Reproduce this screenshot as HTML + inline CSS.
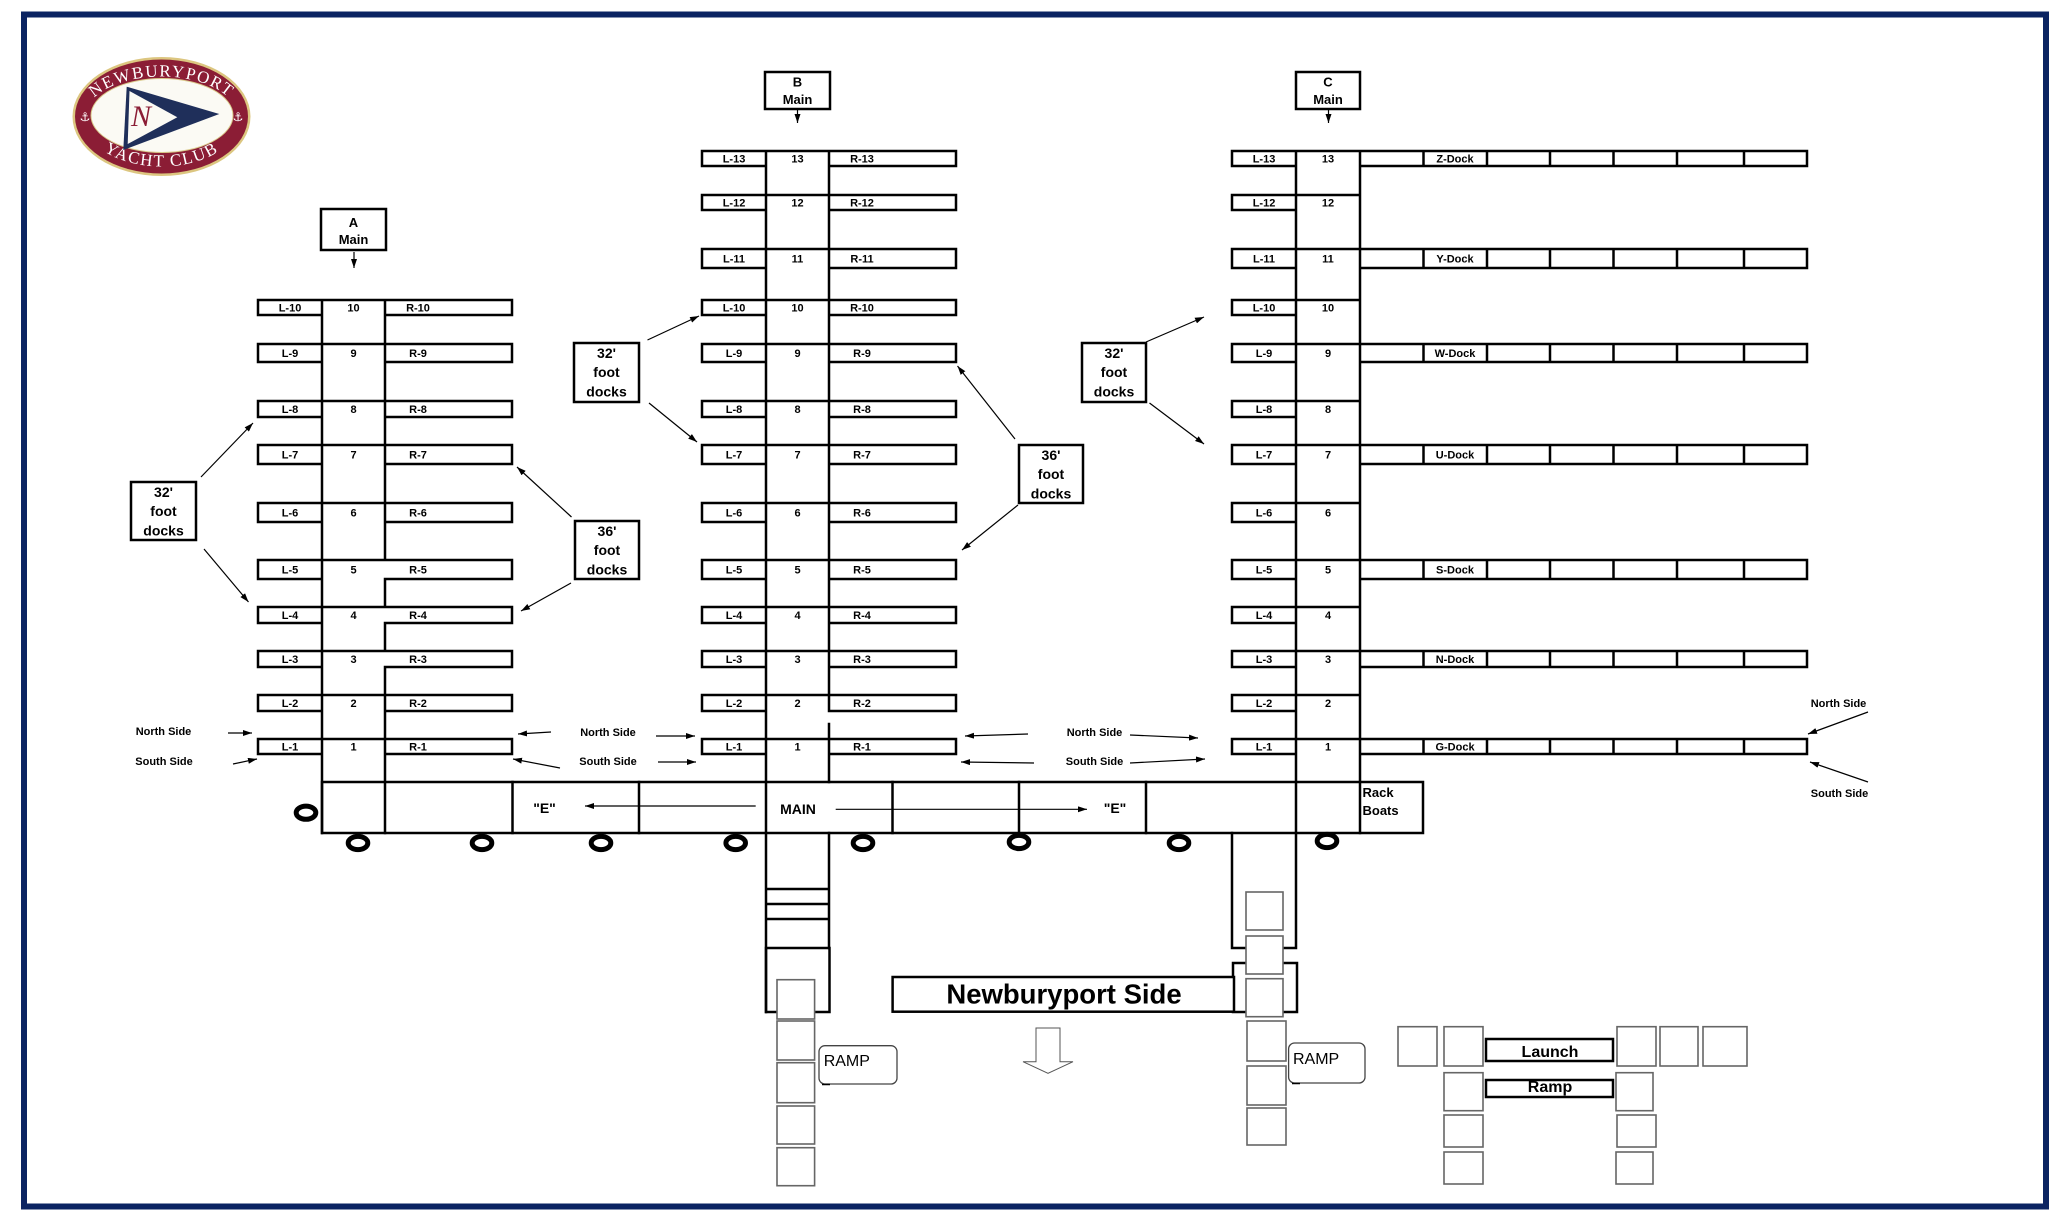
<!DOCTYPE html>
<html><head><meta charset="utf-8"><style>
html,body{margin:0;padding:0;background:#fff;}
svg{display:block;}
.k{fill:none;stroke:#000;stroke-width:2.5;stroke-linecap:square}
.kw{fill:#fff;stroke:#000;stroke-width:2.5}
.a{stroke:#000;stroke-width:1.2;fill:none;marker-end:url(#ah)}
.t{font-family:"Liberation Sans",Arial,sans-serif;font-weight:bold;font-size:11px;text-anchor:middle;fill:#000}
.m{font-family:"Liberation Sans",Arial,sans-serif;font-weight:bold;font-size:13px;text-anchor:middle;fill:#000}
.b{font-family:"Liberation Sans",Arial,sans-serif;font-weight:bold;font-size:14px;text-anchor:middle;fill:#000}
.sq{fill:#fff;stroke:#666;stroke-width:1.6}
.ring{fill:#fff;stroke:#000;stroke-width:5}
</style></head><body>
<svg xmlns="http://www.w3.org/2000/svg" width="2060" height="1221" viewBox="0 0 2060 1221">
<defs>
<marker id="ah" viewBox="0 0 10 10" refX="10" refY="5" markerWidth="9" markerHeight="6" markerUnits="userSpaceOnUse" orient="auto" preserveAspectRatio="none"><path d="M0,0 L10,5 L0,10 z" fill="#000"/></marker>
<path id="topArc" d="M85.5 116.5 A76 40 0 0 1 237.5 116.5" fill="none"/>
<path id="botArc" d="M81.5 116.5 A80 50 0 0 0 241.5 116.5" fill="none"/>
</defs>
<rect x="0" y="0" width="2060" height="1221" fill="#fff"/>
<!-- frame -->
<rect x="24" y="14.5" width="2022" height="1192" fill="none" stroke="#0b2462" stroke-width="6"/>

<!-- logo -->
<g>
<ellipse cx="161.5" cy="116.5" rx="89" ry="59.5" fill="#dcc680"/>
<ellipse cx="161.5" cy="116.5" rx="86.5" ry="57" fill="#8b1d35"/>
<ellipse cx="162" cy="115.5" rx="71" ry="37" fill="#fbfaf4" stroke="#d9c98a" stroke-width="1"/>
<text font-family="Liberation Serif, serif" font-size="17" fill="#fff" letter-spacing="1.5"><textPath href="#topArc" startOffset="50%" text-anchor="middle">NEWBURYPORT</textPath></text>
<text font-family="Liberation Serif, serif" font-size="17" fill="#fff" letter-spacing="1.5"><textPath href="#botArc" startOffset="50%" text-anchor="middle">YACHT CLUB</textPath></text>
<text x="85" y="121" font-family="DejaVu Sans, sans-serif" font-size="12" fill="#fff" text-anchor="middle">⚓</text>
<text x="238" y="121" font-family="DejaVu Sans, sans-serif" font-size="12" fill="#fff" text-anchor="middle">⚓</text>
<polygon points="126.7,86.7 219.3,114 123.3,150" fill="#1f2f5a"/>
<polygon points="129.5,91 177.3,117.3 127.7,144" fill="#fbfaf4"/>
<text x="141" y="126" font-family="Liberation Serif, serif" font-style="italic" font-size="30" fill="#8b1d35" text-anchor="middle">N</text>
</g>

<!-- ===== A dock ===== -->
<rect class="k" x="321" y="209" width="65" height="41"/>
<text class="m" x="353.5" y="227">A</text><text class="m" x="353.5" y="244">Main</text>
<path class="a" d="M354 252V268"/>
<path class="k" d="M322 300H258V315H322M322 300H512V315H385
M322 344H258V362H322M322 344H512V362H385
M322 401H258V417H322M322 401H512V417H385
M322 445H258V464H322M322 445H512V464H385
M322 503H258V522H322M322 503H512V522H385
M322 560H258V579H322M322 560H512V579H385
M322 607H258V623H322M322 607H512V623H385
M322 651H258V667H322M322 651H512V667H385
M322 695H258V711H322M322 695H512V711H385
M322 739H258V754H322M322 739H512V754H385
M322 300V833M385 300V560M385 579V607M385 623V651M385 667V833"/>
<g class="t">
<text x="290" y="311.5">L-10</text><text x="353.5" y="311.5">10</text><text x="418" y="311.5">R-10</text>
<text x="290" y="357">L-9</text><text x="353.5" y="357">9</text><text x="418" y="357">R-9</text>
<text x="290" y="413">L-8</text><text x="353.5" y="413">8</text><text x="418" y="413">R-8</text>
<text x="290" y="458.5">L-7</text><text x="353.5" y="458.5">7</text><text x="418" y="458.5">R-7</text>
<text x="290" y="516.5">L-6</text><text x="353.5" y="516.5">6</text><text x="418" y="516.5">R-6</text>
<text x="290" y="573.5">L-5</text><text x="353.5" y="573.5">5</text><text x="418" y="573.5">R-5</text>
<text x="290" y="619">L-4</text><text x="353.5" y="619">4</text><text x="418" y="619">R-4</text>
<text x="290" y="663">L-3</text><text x="353.5" y="663">3</text><text x="418" y="663">R-3</text>
<text x="290" y="707">L-2</text><text x="353.5" y="707">2</text><text x="418" y="707">R-2</text>
<text x="290" y="750.5">L-1</text><text x="353.5" y="750.5">1</text><text x="418" y="750.5">R-1</text>
</g>

<!-- ===== B dock ===== -->
<rect class="k" x="765" y="72" width="65" height="37"/>
<text class="m" x="797.5" y="86.5">B</text><text class="m" x="797.5" y="104">Main</text>
<path class="a" d="M797.5 110V123"/>
<path class="k" d="M766 151H702V166H766M766 151H956V166H829
M766 195H702V210H766M766 195H956V210H829
M766 249H702V268H766M766 249H956V268H829
M766 300H702V315H766M766 300H956V315H829
M766 344H702V362H766M766 344H956V362H829
M766 401H702V417H766M766 401H956V417H829
M766 445H702V464H766M766 445H956V464H829
M766 503H702V522H766M766 503H956V522H829
M766 560H702V579H766M766 560H956V579H829
M766 607H702V623H766M766 607H956V623H829
M766 651H702V667H766M766 651H956V667H829
M766 695H702V711H766M766 695H956V711H829
M766 739H702V754H766M766 739H956V754H829
M766 151V1012M829 151V711M829 724V782M829 833V948
M766 889H829M766 904H829M766 919H829"/>
<rect class="k" x="766" y="948" width="63.5" height="64"/>
<g class="t">
<text x="734" y="162.5">L-13</text><text x="797.5" y="162.5">13</text><text x="862" y="162.5">R-13</text>
<text x="734" y="206.5">L-12</text><text x="797.5" y="206.5">12</text><text x="862" y="206.5">R-12</text>
<text x="734" y="262.5">L-11</text><text x="797.5" y="262.5">11</text><text x="862" y="262.5">R-11</text>
<text x="734" y="311.5">L-10</text><text x="797.5" y="311.5">10</text><text x="862" y="311.5">R-10</text>
<text x="734" y="357">L-9</text><text x="797.5" y="357">9</text><text x="862" y="357">R-9</text>
<text x="734" y="413">L-8</text><text x="797.5" y="413">8</text><text x="862" y="413">R-8</text>
<text x="734" y="458.5">L-7</text><text x="797.5" y="458.5">7</text><text x="862" y="458.5">R-7</text>
<text x="734" y="516.5">L-6</text><text x="797.5" y="516.5">6</text><text x="862" y="516.5">R-6</text>
<text x="734" y="573.5">L-5</text><text x="797.5" y="573.5">5</text><text x="862" y="573.5">R-5</text>
<text x="734" y="619">L-4</text><text x="797.5" y="619">4</text><text x="862" y="619">R-4</text>
<text x="734" y="663">L-3</text><text x="797.5" y="663">3</text><text x="862" y="663">R-3</text>
<text x="734" y="707">L-2</text><text x="797.5" y="707">2</text><text x="862" y="707">R-2</text>
<text x="734" y="750.5">L-1</text><text x="797.5" y="750.5">1</text><text x="862" y="750.5">R-1</text>
</g>

<!-- ===== C dock ===== -->
<rect class="k" x="1296" y="72" width="64" height="37"/>
<text class="m" x="1328" y="86.5">C</text><text class="m" x="1328" y="104">Main</text>
<path class="a" d="M1328.5 110V123"/>
<path class="k" d="M1296 151H1232V166H1296M1296 151H1807V166H1360M1423.5 151V166M1487 151V166M1550 151V166M1613.5 151V166M1677 151V166M1744 151V166
M1296 195H1232V210H1296M1296 195H1360
M1296 249H1232V268H1296M1296 249H1807V268H1360M1423.5 249V268M1487 249V268M1550 249V268M1613.5 249V268M1677 249V268M1744 249V268
M1296 300H1232V315H1296M1296 300H1360
M1296 344H1232V362H1296M1296 344H1807V362H1360M1423.5 344V362M1487 344V362M1550 344V362M1613.5 344V362M1677 344V362M1744 344V362
M1296 401H1232V417H1296M1296 401H1360
M1296 445H1232V464H1296M1296 445H1807V464H1360M1423.5 445V464M1487 445V464M1550 445V464M1613.5 445V464M1677 445V464M1744 445V464
M1296 503H1232V522H1296M1296 503H1360
M1296 560H1232V579H1296M1296 560H1807V579H1360M1423.5 560V579M1487 560V579M1550 560V579M1613.5 560V579M1677 560V579M1744 560V579
M1296 607H1232V623H1296M1296 607H1360
M1296 651H1232V667H1296M1296 651H1807V667H1360M1423.5 651V667M1487 651V667M1550 651V667M1613.5 651V667M1677 651V667M1744 651V667
M1296 695H1232V711H1296M1296 695H1360
M1296 739H1232V754H1296M1296 739H1807V754H1360M1423.5 739V754M1487 739V754M1550 739V754M1613.5 739V754M1677 739V754M1744 739V754
M1296 151V948M1360 151V833
M1232 833V948H1296"/>
<rect class="k" x="1233" y="963" width="64" height="49"/>
<g class="t">
<text x="1264" y="162.5">L-13</text><text x="1328" y="162.5">13</text><text x="1455" y="162.5">Z-Dock</text>
<text x="1264" y="206.5">L-12</text><text x="1328" y="206.5">12</text>
<text x="1264" y="262.5">L-11</text><text x="1328" y="262.5">11</text><text x="1455" y="262.5">Y-Dock</text>
<text x="1264" y="311.5">L-10</text><text x="1328" y="311.5">10</text>
<text x="1264" y="357">L-9</text><text x="1328" y="357">9</text><text x="1455" y="357">W-Dock</text>
<text x="1264" y="413">L-8</text><text x="1328" y="413">8</text>
<text x="1264" y="458.5">L-7</text><text x="1328" y="458.5">7</text><text x="1455" y="458.5">U-Dock</text>
<text x="1264" y="516.5">L-6</text><text x="1328" y="516.5">6</text>
<text x="1264" y="573.5">L-5</text><text x="1328" y="573.5">5</text><text x="1455" y="573.5">S-Dock</text>
<text x="1264" y="619">L-4</text><text x="1328" y="619">4</text>
<text x="1264" y="663">L-3</text><text x="1328" y="663">3</text><text x="1455" y="663">N-Dock</text>
<text x="1264" y="707">L-2</text><text x="1328" y="707">2</text>
<text x="1264" y="750.5">L-1</text><text x="1328" y="750.5">1</text><text x="1455" y="750.5">G-Dock</text>
</g>

<!-- ===== Main walkway ===== -->
<rect class="k" x="322" y="782" width="1101" height="51"/>
<path class="k" d="M512.5 782V833M639 782V833M892.5 782V833M1019 782V833M1146 782V833"/>
<text class="b" x="544.5" y="813">"E"</text>
<text class="b" x="798" y="814">MAIN</text>
<text class="b" x="1115" y="813">"E"</text>
<text x="1362.5" y="797" font-family="Liberation Sans, Arial, sans-serif" font-weight="bold" font-size="13">Rack</text>
<text x="1362.5" y="815" font-family="Liberation Sans, Arial, sans-serif" font-weight="bold" font-size="13">Boats</text>
<path class="a" d="M755.7 806H585"/>
<path class="a" d="M835.7 809.3H1087"/>

<!-- rings -->
<ellipse class="ring" cx="306" cy="812.7" rx="9.8" ry="6.6"/>
<ellipse class="ring" cx="358" cy="843" rx="9.8" ry="6.6"/>
<ellipse class="ring" cx="482" cy="843" rx="9.8" ry="6.6"/>
<ellipse class="ring" cx="601" cy="843" rx="9.8" ry="6.6"/>
<ellipse class="ring" cx="735.7" cy="843" rx="9.8" ry="6.6"/>
<ellipse class="ring" cx="863" cy="843" rx="9.8" ry="6.6"/>
<ellipse class="ring" cx="1019" cy="842" rx="9.8" ry="6.6"/>
<ellipse class="ring" cx="1179" cy="843" rx="9.8" ry="6.6"/>
<ellipse class="ring" cx="1327" cy="841" rx="9.8" ry="6.6"/>

<!-- label boxes -->
<rect class="k" x="131" y="482" width="65" height="58"/>
<text class="b" x="163.5" y="497">32'</text><text class="b" x="163.5" y="516">foot</text><text class="b" x="163.5" y="535.5">docks</text>
<rect class="k" x="575" y="521" width="64" height="58"/>
<text class="b" x="607" y="536">36'</text><text class="b" x="607" y="555">foot</text><text class="b" x="607" y="574.5">docks</text>
<rect class="k" x="574" y="343" width="65" height="59"/>
<text class="b" x="606.5" y="358">32'</text><text class="b" x="606.5" y="377">foot</text><text class="b" x="606.5" y="396.5">docks</text>
<rect class="k" x="1019" y="445" width="64" height="58"/>
<text class="b" x="1051" y="460">36'</text><text class="b" x="1051" y="479">foot</text><text class="b" x="1051" y="498.5">docks</text>
<rect class="k" x="1082" y="343" width="64" height="59"/>
<text class="b" x="1114" y="358">32'</text><text class="b" x="1114" y="377">foot</text><text class="b" x="1114" y="396.5">docks</text>

<!-- box arrows -->
<path class="a" d="M201 477L253 423"/>
<path class="a" d="M204 549L248.5 602"/>
<path class="a" d="M571.5 517L517 467"/>
<path class="a" d="M571 583L521 611"/>
<path class="a" d="M647.5 340L699 316"/>
<path class="a" d="M649 403L697 442"/>
<path class="a" d="M1015 439L957.5 366"/>
<path class="a" d="M1018 505L962 550"/>
<path class="a" d="M1146 342L1204 317"/>
<path class="a" d="M1149.5 403L1204 444"/>

<!-- north / south side labels -->
<g class="t">
<text x="163.5" y="735">North Side</text><text x="164" y="765">South Side</text>
<text x="608" y="736">North Side</text><text x="608" y="765">South Side</text>
<text x="1094.5" y="736">North Side</text><text x="1094.5" y="765">South Side</text>
<text x="1838.5" y="707">North Side</text><text x="1839.5" y="797">South Side</text>
</g>
<path class="a" d="M228 733H252"/>
<path class="a" d="M233 764L257 759"/>
<path class="a" d="M551 732L518 734"/>
<path class="a" d="M560 768L513 759"/>
<path class="a" d="M656 736H695"/>
<path class="a" d="M658 762H696"/>
<path class="a" d="M1028 734L965 736"/>
<path class="a" d="M1034 763L961 762"/>
<path class="a" d="M1130 735L1198 738"/>
<path class="a" d="M1130 763L1205 759"/>
<path class="a" d="M1868 712L1808 734"/>
<path class="a" d="M1868 782L1810 762"/>

<!-- Newburyport side -->
<rect class="kw" x="892.6" y="977" width="341.4" height="34.7"/>
<text x="1064" y="1003.5" font-family="Liberation Sans, Arial, sans-serif" font-weight="bold" font-size="27.5" text-anchor="middle">Newburyport Side</text>

<!-- squares B -->
<rect class="sq" x="777" y="979.7" width="37.6" height="39.3"/>
<rect class="sq" x="777" y="1021" width="37.6" height="39"/>
<rect class="sq" x="777" y="1062.7" width="37.6" height="40"/>
<rect class="sq" x="777" y="1106" width="37.6" height="38"/>
<rect class="sq" x="777" y="1147.7" width="37.6" height="38"/>
<!-- squares C -->
<rect class="sq" x="1246" y="892" width="37" height="38"/>
<rect class="sq" x="1246" y="936" width="37" height="38"/>
<rect class="sq" x="1246" y="978.7" width="37" height="38"/>
<rect class="sq" x="1247" y="1021" width="39" height="40"/>
<rect class="sq" x="1247" y="1066" width="39" height="39"/>
<rect class="sq" x="1247" y="1108" width="39" height="37"/>

<!-- RAMP boxes -->
<rect x="819" y="1045.7" width="78" height="38.3" rx="6" fill="#fff" stroke="#444" stroke-width="1.3"/>
<path d="M822 1084.5H830" stroke="#000" stroke-width="1.5"/>
<text x="823.7" y="1066" font-family="Liberation Sans, Arial, sans-serif" font-size="16">RAMP</text>
<rect x="1288.6" y="1043" width="76.4" height="40" rx="6" fill="#fff" stroke="#444" stroke-width="1.3"/>
<path d="M1292 1083.5H1300" stroke="#000" stroke-width="1.5"/>
<text x="1293" y="1064" font-family="Liberation Sans, Arial, sans-serif" font-size="16">RAMP</text>

<!-- down arrow -->
<polygon points="1036,1028 1060,1028 1060,1061.7 1073,1061.7 1048,1073.3 1023,1061.7 1036,1061.7" fill="#fff" stroke="#555" stroke-width="1"/>

<!-- Launch area -->
<rect class="sq" x="1398" y="1026.7" width="39" height="39.3"/>
<rect class="sq" x="1444" y="1026.7" width="39" height="39.3"/>
<rect class="sq" x="1617" y="1026.7" width="39" height="39.3"/>
<rect class="sq" x="1660" y="1026.7" width="38" height="39.3"/>
<rect class="sq" x="1703" y="1026.7" width="44" height="39.3"/>
<rect class="sq" x="1444" y="1072.7" width="39" height="38"/>
<rect class="sq" x="1616" y="1072.7" width="37" height="38"/>
<rect class="sq" x="1444" y="1115" width="39" height="32"/>
<rect class="sq" x="1617" y="1115" width="39" height="32"/>
<rect class="sq" x="1444" y="1152" width="39" height="32"/>
<rect class="sq" x="1616" y="1152" width="37" height="32"/>
<rect class="kw" x="1486" y="1039" width="127" height="22"/>
<text x="1550" y="1057" font-family="Liberation Sans, Arial, sans-serif" font-weight="bold" font-size="16" text-anchor="middle">Launch</text>
<rect class="kw" x="1486" y="1080" width="127" height="17"/>
<text x="1550" y="1092" font-family="Liberation Sans, Arial, sans-serif" font-weight="bold" font-size="16" text-anchor="middle">Ramp</text>
</svg>
</body></html>
